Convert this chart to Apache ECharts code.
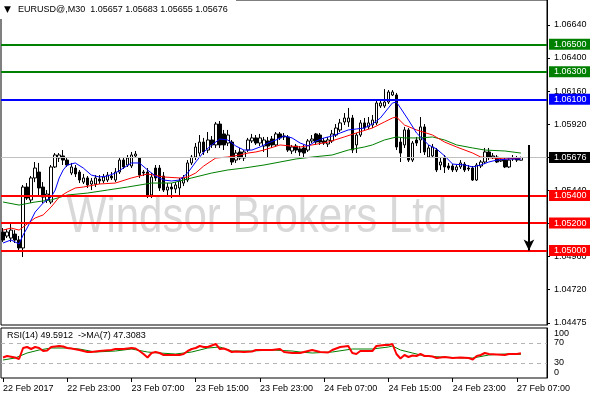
<!DOCTYPE html>
<html><head><meta charset="utf-8">
<script src="https://cdn.jsdelivr.net/npm/echarts@6/dist/echarts.min.js"></script>
<style>html,body{margin:0;padding:0;background:#fff}#c{width:590px;height:400px}</style>
</head><body><div id="c"></div>
<script>
// ---------- data ----------
const timeLabels = ['22 Feb 2017','22 Feb 23:00','23 Feb 07:00','23 Feb 15:00','23 Feb 23:00','24 Feb 07:00','24 Feb 15:00','24 Feb 23:00','27 Feb 07:00'];
const barsPerLabel = 16;
const slotCount = 136; // 130 bars + empty right shift

const opens = [1.05135,1.05106,1.05091,1.05120,1.05077,1.05019,1.05462,1.05368,1.05528,1.05571,1.05462,1.05368,1.05353,1.05608,1.05673,1.05688,1.05658,1.05564,1.05600,1.05571,1.05498,1.05528,1.05484,1.05484,1.05520,1.05506,1.05513,1.05542,1.05513,1.05571,1.05658,1.05622,1.05615,1.05688,1.05673,1.05571,1.05571,1.05404,1.05600,1.05600,1.05542,1.05440,1.05462,1.05448,1.05455,1.05491,1.05513,1.05637,1.05680,1.05709,1.05789,1.05731,1.05804,1.05768,1.05920,1.05848,1.05782,1.05789,1.05658,1.05717,1.05673,1.05731,1.05797,1.05819,1.05782,1.05760,1.05797,1.05811,1.05768,1.05848,1.05833,1.05826,1.05724,1.05760,1.05739,1.05746,1.05731,1.05797,1.05848,1.05840,1.05797,1.05775,1.05797,1.05840,1.05877,1.05935,1.05935,1.05964,1.05768,1.05840,1.05928,1.05899,1.05913,1.05928,1.06051,1.06051,1.06080,1.06131,1.06131,1.05789,1.05768,1.05877,1.05658,1.05804,1.05804,1.05899,1.05680,1.05688,1.05731,1.05622,1.05673,1.05615,1.05615,1.05586,1.05608,1.05629,1.05600,1.05600,1.05513,1.05615,1.05644,1.05717,1.05680,1.05680,1.05651,1.05658,1.05608,1.05666,1.05673,1.05657];
const closes = [1.05077,1.05135,1.05149,1.05077,1.05019,1.05462,1.05382,1.05528,1.05600,1.05455,1.05389,1.05411,1.05608,1.05695,1.05695,1.05658,1.05622,1.05608,1.05557,1.05513,1.05528,1.05477,1.05506,1.05528,1.05506,1.05535,1.05549,1.05528,1.05571,1.05658,1.05608,1.05673,1.05695,1.05702,1.05549,1.05564,1.05404,1.05535,1.05528,1.05455,1.05440,1.05462,1.05448,1.05477,1.05506,1.05528,1.05637,1.05680,1.05753,1.05789,1.05717,1.05804,1.05768,1.05920,1.05768,1.05768,1.05840,1.05644,1.05709,1.05673,1.05717,1.05804,1.05819,1.05782,1.05819,1.05804,1.05760,1.05768,1.05848,1.05819,1.05826,1.05731,1.05753,1.05731,1.05717,1.05709,1.05797,1.05811,1.05789,1.05789,1.05782,1.05804,1.05848,1.05891,1.05928,1.05964,1.05964,1.05731,1.05840,1.05928,1.05891,1.05928,1.05949,1.06073,1.06073,1.06080,1.06153,1.06153,1.05753,1.05709,1.05877,1.05658,1.05782,1.05782,1.05899,1.05717,1.05746,1.05753,1.05586,1.05644,1.05608,1.05600,1.05586,1.05608,1.05637,1.05586,1.05593,1.05513,1.05622,1.05644,1.05717,1.05680,1.05688,1.05644,1.05658,1.05608,1.05658,1.05673,1.05658,1.05676];
const lows = [1.05062,1.05091,1.05062,1.05055,1.05004,1.04953,1.05368,1.05346,1.05498,1.05404,1.05346,1.05346,1.05338,1.05600,1.05644,1.05622,1.05608,1.05549,1.05535,1.05491,1.05484,1.05455,1.05440,1.05462,1.05484,1.05491,1.05498,1.05513,1.05498,1.05557,1.05593,1.05608,1.05600,1.05673,1.05528,1.05542,1.05382,1.05382,1.05506,1.05433,1.05426,1.05404,1.05382,1.05418,1.05389,1.05469,1.05498,1.05622,1.05658,1.05688,1.05695,1.05709,1.05746,1.05746,1.05746,1.05731,1.05760,1.05622,1.05637,1.05658,1.05651,1.05717,1.05782,1.05768,1.05760,1.05717,1.05680,1.05746,1.05753,1.05804,1.05804,1.05717,1.05702,1.05709,1.05688,1.05680,1.05717,1.05782,1.05768,1.05768,1.05768,1.05753,1.05782,1.05826,1.05862,1.05913,1.05899,1.05709,1.05709,1.05826,1.05877,1.05884,1.05891,1.05913,1.06037,1.06037,1.06066,1.06124,1.05731,1.05644,1.05746,1.05644,1.05644,1.05760,1.05709,1.05695,1.05673,1.05673,1.05571,1.05586,1.05564,1.05586,1.05571,1.05571,1.05593,1.05571,1.05578,1.05506,1.05506,1.05600,1.05629,1.05658,1.05666,1.05637,1.05644,1.05600,1.05600,1.05651,1.05644,1.05655];
const highs = [1.05164,1.05157,1.05193,1.05149,1.05106,1.05477,1.05491,1.05542,1.05644,1.05637,1.05498,1.05440,1.05622,1.05709,1.05709,1.05731,1.05673,1.05637,1.05622,1.05586,1.05557,1.05542,1.05528,1.05549,1.05549,1.05557,1.05571,1.05571,1.05600,1.05673,1.05680,1.05695,1.05717,1.05724,1.05680,1.05586,1.05600,1.05564,1.05622,1.05622,1.05571,1.05491,1.05491,1.05498,1.05528,1.05549,1.05658,1.05695,1.05782,1.05840,1.05819,1.05862,1.05833,1.05935,1.05942,1.05877,1.05877,1.05804,1.05731,1.05746,1.05731,1.05819,1.05848,1.05840,1.05848,1.05826,1.05826,1.05833,1.05862,1.05862,1.05855,1.05840,1.05768,1.05775,1.05760,1.05768,1.05811,1.05840,1.05855,1.05855,1.05819,1.05826,1.05877,1.05920,1.05957,1.06000,1.06037,1.05986,1.05855,1.05949,1.05964,1.05971,1.05986,1.06095,1.06095,1.06174,1.06167,1.06167,1.06146,1.05819,1.05899,1.05891,1.05797,1.05826,1.05971,1.05920,1.05768,1.05775,1.05746,1.05673,1.05695,1.05637,1.05629,1.05622,1.05658,1.05644,1.05622,1.05615,1.05637,1.05658,1.05746,1.05746,1.05709,1.05695,1.05673,1.05673,1.05673,1.05695,1.05688,1.05683];

// moving averages: [bar, value]
const maFast = [[0,1.05055],[2,1.05077],[4,1.05048],[5,1.05113],[6,1.05164],[8,1.05280],[10,1.05346],[12,1.05389],[13,1.05440],[14,1.05528],[15,1.05586],[16,1.05622],[18,1.05637],[20,1.05600],[22,1.05549],[24,1.05535],[26,1.05542],[28,1.05564],[30,1.05600],[32,1.05637],[34,1.05637],[36,1.05586],[38,1.05542],[40,1.05513],[42,1.05506],[44,1.05513],[46,1.05564],[48,1.05644],[50,1.05717],[52,1.05768],[54,1.05811],[56,1.05804],[58,1.05760],[60,1.05731],[62,1.05731],[64,1.05753],[66,1.05782],[68,1.05804],[70,1.05833],[72,1.05819],[74,1.05782],[76,1.05760],[78,1.05797],[80,1.05819],[82,1.05833],[84,1.05855],[86,1.05877],[88,1.05884],[90,1.05891],[92,1.05920],[94,1.05964],[96,1.06037],[97,1.06073],[98,1.06080],[99,1.06037],[101,1.05949],[103,1.05855],[106,1.05768],[108,1.05739],[110,1.05688],[112,1.05629],[115,1.05622],[117,1.05608],[119,1.05622],[121,1.05644],[123,1.05658],[126,1.05666],[129,1.05666]];
const maMid = [[0,1.05149],[2,1.05164],[4,1.05149],[6,1.05193],[8,1.05237],[10,1.05259],[12,1.05317],[14,1.05389],[16,1.05426],[18,1.05455],[20,1.05462],[24,1.05484],[28,1.05491],[32,1.05528],[36,1.05557],[40,1.05535],[44,1.05528],[46,1.05535],[48,1.05564],[50,1.05615],[53,1.05673],[56,1.05680],[59,1.05695],[61,1.05709],[63,1.05717],[65,1.05731],[69,1.05768],[74,1.05753],[77,1.05768],[81,1.05789],[85,1.05826],[88,1.05855],[92,1.05891],[95,1.05935],[97,1.05964],[98,1.05971],[100,1.05913],[103,1.05877],[107,1.05840],[110,1.05789],[113,1.05753],[117,1.05709],[119,1.05680],[122,1.05673],[125,1.05666],[129,1.05673]];
const maSlow = [[0,1.05353],[4,1.05331],[8,1.05353],[12,1.05368],[16,1.05404],[21,1.05418],[26,1.05440],[31,1.05462],[37,1.05491],[42,1.05491],[47,1.05528],[52,1.05564],[56,1.05586],[60,1.05600],[65,1.05622],[69,1.05644],[73,1.05666],[77,1.05680],[82,1.05695],[86,1.05731],[90,1.05753],[92,1.05768],[95,1.05804],[98,1.05826],[100,1.05819],[104,1.05819],[107,1.05826],[110,1.05804],[113,1.05768],[117,1.05746],[120,1.05731],[125,1.05724],[129,1.05709]];

const rsi = [[0,41],[1,44],[3,41],[4,38],[5,60],[6,62],[7,58],[8,62],[9,60],[10,54],[11,55],[12,62],[14,64],[15,63],[16,60],[17,59],[19,56],[21,52],[22,52],[24,54],[27,56],[28,58],[30,58],[32,60],[33,59],[34,54],[35,48],[36,41],[37,50],[38,52],[39,50],[40,46],[42,46],[44,46],[45,48],[46,54],[47,58],[48,60],[49,64],[50,62],[51,62],[53,68],[54,58],[55,59],[56,56],[57,52],[58,53],[60,52],[62,53],[63,56],[65,56],[67,56],[69,58],[70,52],[72,50],[74,50],[76,54],[77,56],[79,52],[81,51],[82,56],[84,62],[86,64],[87,50],[88,48],[89,54],[90,54],[92,54],[93,64],[95,66],[96,66],[97,68],[98,48],[99,39],[100,46],[101,42],[102,45],[103,44],[104,48],[105,44],[106,44],[107,43],[108,40],[110,42],[112,40],[114,41],[116,40],[117,37],[118,44],[119,46],[120,50],[121,48],[123,47],[125,46],[126,48],[127,48],[128,48],[129,49.59]];
const rsiMa = [[0,36],[3,40],[6,50],[9,56],[12,60],[16,60],[19,58],[23,52],[28,54],[32,58],[36,52],[39,50],[43,48],[47,52],[51,60],[54,62],[57,54],[62,54],[67,56],[72,54],[74,52],[77,50],[82,52],[87,58],[92,58],[96,62],[97,64],[99,56],[102,50],[105,44],[109,42],[115,40],[117,40],[121,46],[125,48],[129,47.31]];

const levels = [1.0650, 1.0630, 1.0610, 1.0540, 1.0520, 1.0500];
const lastPrice = 1.05676;
const priceTicks = [1.04475, 1.04720, 1.04960, 1.05200, 1.05440, 1.05680, 1.05920, 1.06160, 1.06400, 1.06640];
const rsiTicks = [0, 30, 70, 100];
const rsiLevels = [30, 70];
const arrowBar = 131, arrowFrom = 1.05768, arrowTo = 1.05000;

const titleText = 'EURUSD@,M30  1.05657 1.05683 1.05655 1.05676';
const rsiText = 'RSI(14) 49.5912  ->MA(7) 47.3083';
const watermark = 'Windsor Brokers Ltd';

// ---------- chart ----------
const FONT = 'Liberation Sans';
const FS = 9;
const levelColors = ['#008000', '#008000', '#0000ff', '#ff0000', '#ff0000', '#ff0000'];
const cats = Array.from({length: slotCount}, (_, i) => String(i));
const showBar = (i) => i % barsPerLabel === 0 && i / barsPerLabel < timeLabels.length;
const candles = opens.map((o, i) => [o, closes[i], lows[i], highs[i]]);

const levelLines = [{yAxis: lastPrice, lineStyle: {color: '#c0c0c0', width: 1, type: 'solid'}, label: {backgroundColor: '#000'}}]
  .concat(levels.map((v, k) => ({yAxis: v, lineStyle: {color: levelColors[k], width: 2, type: 'solid'}, label: {backgroundColor: levelColors[k]}})));

const chart = echarts.init(document.getElementById('c'));
chart.setOption({
  animation: false,
  backgroundColor: '#fff',
  grid: [
    {left: 1, right: 43, top: 0, height: 325, show: true, borderColor: '#000', borderWidth: 1},
    {left: 1, right: 43, top: 328, height: 50, show: true, borderColor: '#000', borderWidth: 1}
  ],
  xAxis: [
    {type: 'category', gridIndex: 0, data: cats, boundaryGap: true, show: false},
    {type: 'category', gridIndex: 1, data: cats, boundaryGap: true,
     axisLine: {show: false},
     axisTick: {show: true, alignWithLabel: true, interval: (i) => showBar(i), length: 4, lineStyle: {color: '#000'}},
     axisLabel: {interval: (i) => showBar(i), formatter: (v, i) => timeLabels[i / barsPerLabel] || '', align: 'left', margin: 6,
                 color: '#000', fontFamily: FONT, fontSize: FS},
     splitLine: {show: false}}
  ],
  yAxis: [
    {type: 'value', gridIndex: 0, position: 'right', min: 1.04459, max: 1.0682175,
     splitLine: {show: false}, axisLine: {show: true, lineStyle: {color: '#000'}},
     axisTick: {show: true, customValues: priceTicks, length: 3, lineStyle: {color: '#000'}},
     axisLabel: {customValues: priceTicks, formatter: (v) => v.toFixed(5), margin: 7, color: '#000', fontFamily: FONT, fontSize: FS}},
    {type: 'value', gridIndex: 1, position: 'right', min: 0, max: 100,
     splitLine: {show: false}, axisLine: {show: true, lineStyle: {color: '#000'}},
     axisTick: {show: false},
     axisLabel: {customValues: rsiTicks, margin: 7, color: '#000', fontFamily: FONT, fontSize: FS,
       formatter: (v) => v === 100 ? '{t|100}' : (v === 0 ? '{b|0}' : String(v)),
       rich: {t: {padding: [12, 0, 0, 0], fontFamily: FONT, fontSize: FS, color: '#000'},
              b: {padding: [0, 0, 10, 0], fontFamily: FONT, fontSize: FS, color: '#000'}}}}
  ],
  graphic: [
    {type: 'text', x: 257, y: 218, scaleY: 1.2, z: 0, silent: true,
     style: {text: watermark, fill: '#d8d8d8', font: '42px "Liberation Sans"', align: 'center', verticalAlign: 'middle'}},
    {type: 'rect', z: 50, silent: true, shape: {x: 0, y: 0, width: 236, height: 19}, style: {fill: '#fff'}},
    {type: 'text', x: 4, y: 10, z: 51, silent: true, style: {text: '▼', fill: '#000', font: '9px "DejaVu Sans"', verticalAlign: 'middle'}},
    {type: 'text', x: 18, y: 10, z: 51, silent: true, style: {text: titleText, fill: '#000', font: FS + 'px "Liberation Sans"', verticalAlign: 'middle'}},
    {type: 'text', x: 7, y: 336, z: 51, silent: true, style: {text: rsiText, fill: '#000', font: FS + 'px "Liberation Sans"', verticalAlign: 'middle'}}
  ],
  series: [
    {type: 'candlestick', xAxisIndex: 0, yAxisIndex: 0, data: candles, barWidth: 3, silent: true,
     itemStyle: {color: '#ffffff', color0: '#000000', borderColor: '#000000', borderColor0: '#000000', borderWidth: 1},
     markLine: {silent: true, symbol: ['none', 'none'], precision: 5,
       label: {show: true, position: 'end', distance: 2, formatter: (p) => Number(p.value).toFixed(5),
               color: '#fff', fontFamily: FONT, fontSize: FS, lineHeight: 10, padding: [1, 5, 0, 5]},
       data: levelLines}},
    {type: 'line', xAxisIndex: 0, yAxisIndex: 0, data: maSlow, symbol: 'none', silent: true, z: 3,
     lineStyle: {color: '#008000', width: 1},
     markLine: {silent: true, precision: 5, label: {show: false}, symbol: ['none', 'arrow'], symbolSize: 10,
       lineStyle: {color: '#000', width: 2, type: 'solid'},
       itemStyle: {color: '#000'},
       data: [[{coord: [arrowBar, arrowFrom], symbol: 'none'}, {coord: [arrowBar, arrowTo], symbol: 'arrow', symbolSize: [8, 11]}]]}},
    {type: 'line', xAxisIndex: 0, yAxisIndex: 0, data: maMid, symbol: 'none', silent: true, z: 3,
     lineStyle: {color: '#ff0000', width: 1}},
    {type: 'line', xAxisIndex: 0, yAxisIndex: 0, data: maFast, symbol: 'none', silent: true, z: 3,
     lineStyle: {color: '#0000ff', width: 1}},
    {type: 'line', xAxisIndex: 1, yAxisIndex: 1, data: rsiMa, symbol: 'none', silent: true, z: 3,
     lineStyle: {color: '#008000', width: 1}},
    {type: 'line', xAxisIndex: 1, yAxisIndex: 1, data: rsi, symbol: 'none', silent: true, z: 4,
     lineStyle: {color: '#ff0000', width: 2},
     markLine: {silent: true, symbol: ['none', 'none'], label: {show: false},
       lineStyle: {color: '#b4b4b4', width: 1, type: [4, 4]},
       data: rsiLevels.map((v) => ({yAxis: v}))}}
  ]
});
</script></body></html>
